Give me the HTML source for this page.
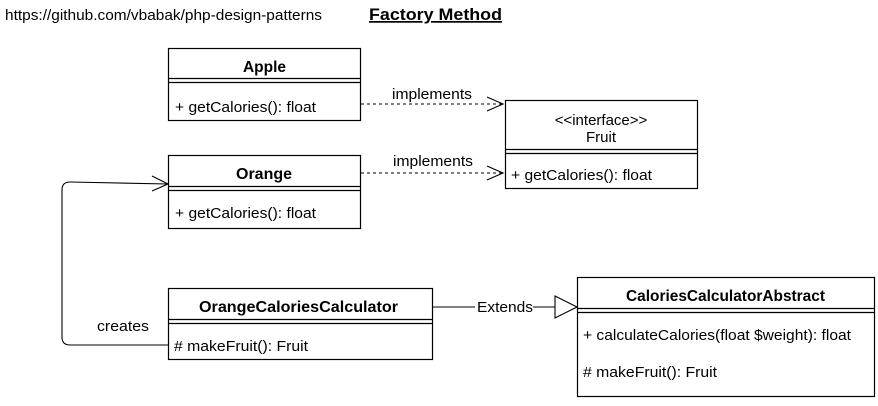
<!DOCTYPE html>
<html><head><style>body{margin:0;background:#fff}</style></head><body>
<svg width="878" height="401" xmlns="http://www.w3.org/2000/svg" font-family="Liberation Sans, Arial, sans-serif" font-size="13">
<rect width="878" height="401" fill="#fff"/>
<text x="5" y="20" font-size="15" textLength="317" lengthAdjust="spacingAndGlyphs">https://github.com/vbabak/php-design-patterns</text>
<text x="369" y="20" font-size="17" font-weight="bold" textLength="133" lengthAdjust="spacingAndGlyphs" text-decoration="underline">Factory Method</text>
<g fill="#fff" stroke="#000" stroke-width="1.2">
<rect x="168.5" y="48.5" width="192" height="72"/>
<line x1="168" y1="78.5" x2="361" y2="78.5"/><line x1="168" y1="82.5" x2="361" y2="82.5"/>
<rect x="168.5" y="155.5" width="192" height="73"/>
<line x1="168" y1="186.5" x2="361" y2="186.5"/><line x1="168" y1="190.5" x2="361" y2="190.5"/>
<rect x="505.5" y="100.5" width="192" height="88"/>
<line x1="505" y1="149.5" x2="698" y2="149.5"/><line x1="505" y1="153.5" x2="698" y2="153.5"/>
<rect x="168.5" y="288.5" width="264" height="71"/>
<line x1="168" y1="319.5" x2="433" y2="319.5"/><line x1="168" y1="323.5" x2="433" y2="323.5"/>
<rect x="577.5" y="277.5" width="297" height="119"/>
<line x1="577" y1="308.5" x2="875" y2="308.5"/><line x1="577" y1="312.5" x2="875" y2="312.5"/>
</g>
<g font-weight="bold" font-size="16">
<text x="243" y="72" textLength="43" lengthAdjust="spacingAndGlyphs">Apple</text>
<text x="236" y="179" textLength="56" lengthAdjust="spacingAndGlyphs">Orange</text>
<text x="199" y="312" textLength="199" lengthAdjust="spacingAndGlyphs">OrangeCaloriesCalculator</text>
<text x="626" y="301" textLength="199" lengthAdjust="spacingAndGlyphs">CaloriesCalculatorAbstract</text>
</g>
<g font-size="15">
<text x="175" y="112" textLength="141" lengthAdjust="spacingAndGlyphs">+ getCalories(): float</text>
<text x="175" y="218" textLength="141" lengthAdjust="spacingAndGlyphs">+ getCalories(): float</text>
<text x="511" y="180" textLength="141" lengthAdjust="spacingAndGlyphs">+ getCalories(): float</text>
<text x="174" y="351" textLength="134" lengthAdjust="spacingAndGlyphs">#  makeFruit(): Fruit</text>
<text x="583" y="340" textLength="268" lengthAdjust="spacingAndGlyphs">+ calculateCalories(float $weight): float</text>
<text x="583" y="377" textLength="134" lengthAdjust="spacingAndGlyphs">#  makeFruit(): Fruit</text>
<text x="601" y="125" text-anchor="middle">&lt;&lt;interface&gt;&gt;</text>
<text x="601" y="142" text-anchor="middle">Fruit</text>
<text x="392" y="99" textLength="80" lengthAdjust="spacingAndGlyphs">implements</text>
<text x="393" y="166" textLength="80" lengthAdjust="spacingAndGlyphs">implements</text>
<text x="97" y="331" textLength="52" lengthAdjust="spacingAndGlyphs">creates</text>
</g>
<g fill="none" stroke="#000" stroke-width="1.1">
<line x1="361" y1="104" x2="503" y2="104" stroke-dasharray="3,3"/>
<polyline points="487,97 503,104 487,111"/>
<line x1="361" y1="173" x2="503" y2="173" stroke-dasharray="3,3"/>
<polyline points="487,166 503,173 487,180"/>
<path d="M168,345 H70 Q62,345 62,337 V190 Q62,182 70,182 L168,184"/>
<polyline points="152,176 168,184 152,191"/>
<line x1="433" y1="307" x2="475" y2="307"/>
<line x1="533" y1="307" x2="555" y2="307"/>
<polygon points="555,296 577,307 555,318" fill="#fff"/>
</g>
<rect x="476" y="298" width="56" height="16" fill="#fff"/>
<text x="477" y="312" font-size="15" textLength="56" lengthAdjust="spacingAndGlyphs">Extends</text>
</svg>
</body></html>
